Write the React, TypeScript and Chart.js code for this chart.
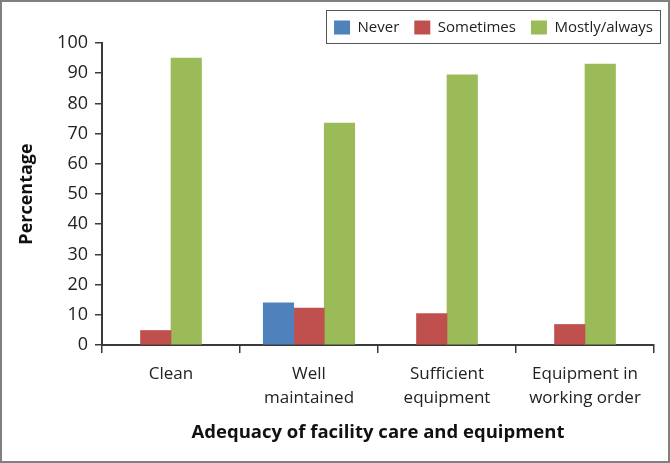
import React, { useEffect, useRef } from 'react';
import { Chart, registerables } from 'chart.js';

Chart.register(...registerables);

const categories: string[][] = [
  ['Clean'],
  ['Well', 'maintained'],
  ['Sufficient', 'equipment'],
  ['Equipment in', 'working order'],
];
const seriesNames = ['Never', 'Sometimes', 'Mostly/always'];
const neverValues: (number | null)[] = [null, 14, null, null];
const sometimesValues = [4.8, 12.2, 10.4, 6.8];
const mostlyValues = [95, 73.5, 89.5, 93];
const seriesColors = ['#4F81BD', '#C0504D', '#9BBB59'];
const yMin = 0;
const yMax = 100;
const yStep = 10;
const xTitle = 'Adequacy of facility care and equipment';
const yTitle = 'Percentage';

const FONT = "'Open Sans', 'DejaVu Sans', sans-serif";
const AXIS = '#3a3a3a';

const legendPatch = {
  id: 'legendPatch',
  beforeInit(chart: any) {
    const lg = chart.legend;
    if (lg && !lg._patched) {
      const proto = Object.getPrototypeOf(lg);
      lg.fit = function () {
        proto.fit.call(this);
        this.height = 38;
      };
      lg._patched = true;
    }
  },
  afterDraw(chart: any) {
    const lg = chart.legend;
    if (!lg || !lg.legendHitBoxes || !lg.legendHitBoxes.length) return;
    const hb = lg.legendHitBoxes;
    const first = hb[0];
    const last = hb[hb.length - 1];
    const left = first.left - 8;
    const right = last.left + last.width + 7.5;
    const top = first.top - 10;
    const bottom = first.top + 22.5;
    const ctx = chart.ctx;
    ctx.save();
    ctx.strokeStyle = '#555555';
    ctx.lineWidth = 1;
    ctx.strokeRect(Math.round(left) + 0.5, Math.round(top) + 0.5, Math.round(right - left), Math.round(bottom - top));
    ctx.restore();
  },
};

export default function App() {
  const ref = useRef<HTMLCanvasElement | null>(null);
  useEffect(() => {
    if (!ref.current) return;
    const chart = new Chart(ref.current, {
      type: 'bar',
      data: {
        labels: categories,
        datasets: [
          { label: seriesNames[0], data: neverValues, backgroundColor: seriesColors[0] },
          { label: seriesNames[1], data: sometimesValues, backgroundColor: seriesColors[1] },
          { label: seriesNames[2], data: mostlyValues, backgroundColor: seriesColors[2] },
        ],
      },
      options: {
        responsive: false,
        animation: false,
        datasets: { bar: { barThickness: 30.5, skipNull: true } },
        layout: { padding: { left: 0, right: 0, top: 3, bottom: 0 } },
        plugins: {
          tooltip: { enabled: false },
          legend: {
            position: 'top',
            align: 'end',
            labels: {
              boxWidth: 16,
              boxHeight: 14,
              padding: 15,
              color: '#222',
              font: { family: FONT, size: 15 },
            },
          },
        },
        scales: {
          x: {
            grid: {
              display: true,
              offset: true,
              drawOnChartArea: false,
              drawTicks: true,
              tickLength: 8,
              color: AXIS,
              lineWidth: 1.5,
            },
            border: { display: true, color: AXIS, width: 2 },
            ticks: {
              color: '#222',
              font: { family: FONT, size: 17, lineHeight: 1.41 },
              padding: 9,
              maxRotation: 0,
              autoSkip: false,
            },
            title: {
              display: true,
              text: xTitle,
              color: '#111',
              font: { family: FONT, size: 18.5, weight: 'bold' },
              padding: { top: 0, bottom: 17 },
            },
            afterFit(s: any) {
              s.height = 116;
            },
          },
          y: {
            min: yMin,
            max: yMax,
            grid: {
              display: true,
              drawOnChartArea: false,
              drawTicks: true,
              tickLength: 7,
              color: AXIS,
              lineWidth: 1.5,
            },
            border: { display: true, color: AXIS, width: 2 },
            ticks: {
              stepSize: yStep,
              color: '#222',
              font: { family: FONT, size: 18 },
              padding: 7,
            },
            title: {
              display: true,
              text: yTitle,
              color: '#111',
              font: { family: FONT, size: 18, weight: 'bold' },
              padding: { top: 14, bottom: 0 },
            },
            afterFit(s: any) {
              s.width = 100;
            },
          },
          yRight: {
            type: 'linear',
            position: 'right',
            display: true,
            grid: { display: false },
            border: { display: false },
            ticks: { display: false },
            afterFit(s: any) {
              s.width = 14;
            },
          },
        },
      } as any,
      plugins: [legendPatch],
    });
    return () => chart.destroy();
  }, []);
  return (
    <div
      style={{
        position: 'fixed',
        left: 0,
        top: 0,
        width: 670,
        height: 463,
        boxSizing: 'border-box',
        border: '2px solid #808080',
        background: '#fff',
      }}
    >
      <canvas ref={ref} width={666} height={459} style={{ display: 'block', width: 666, height: 459 }} />
    </div>
  );
}
